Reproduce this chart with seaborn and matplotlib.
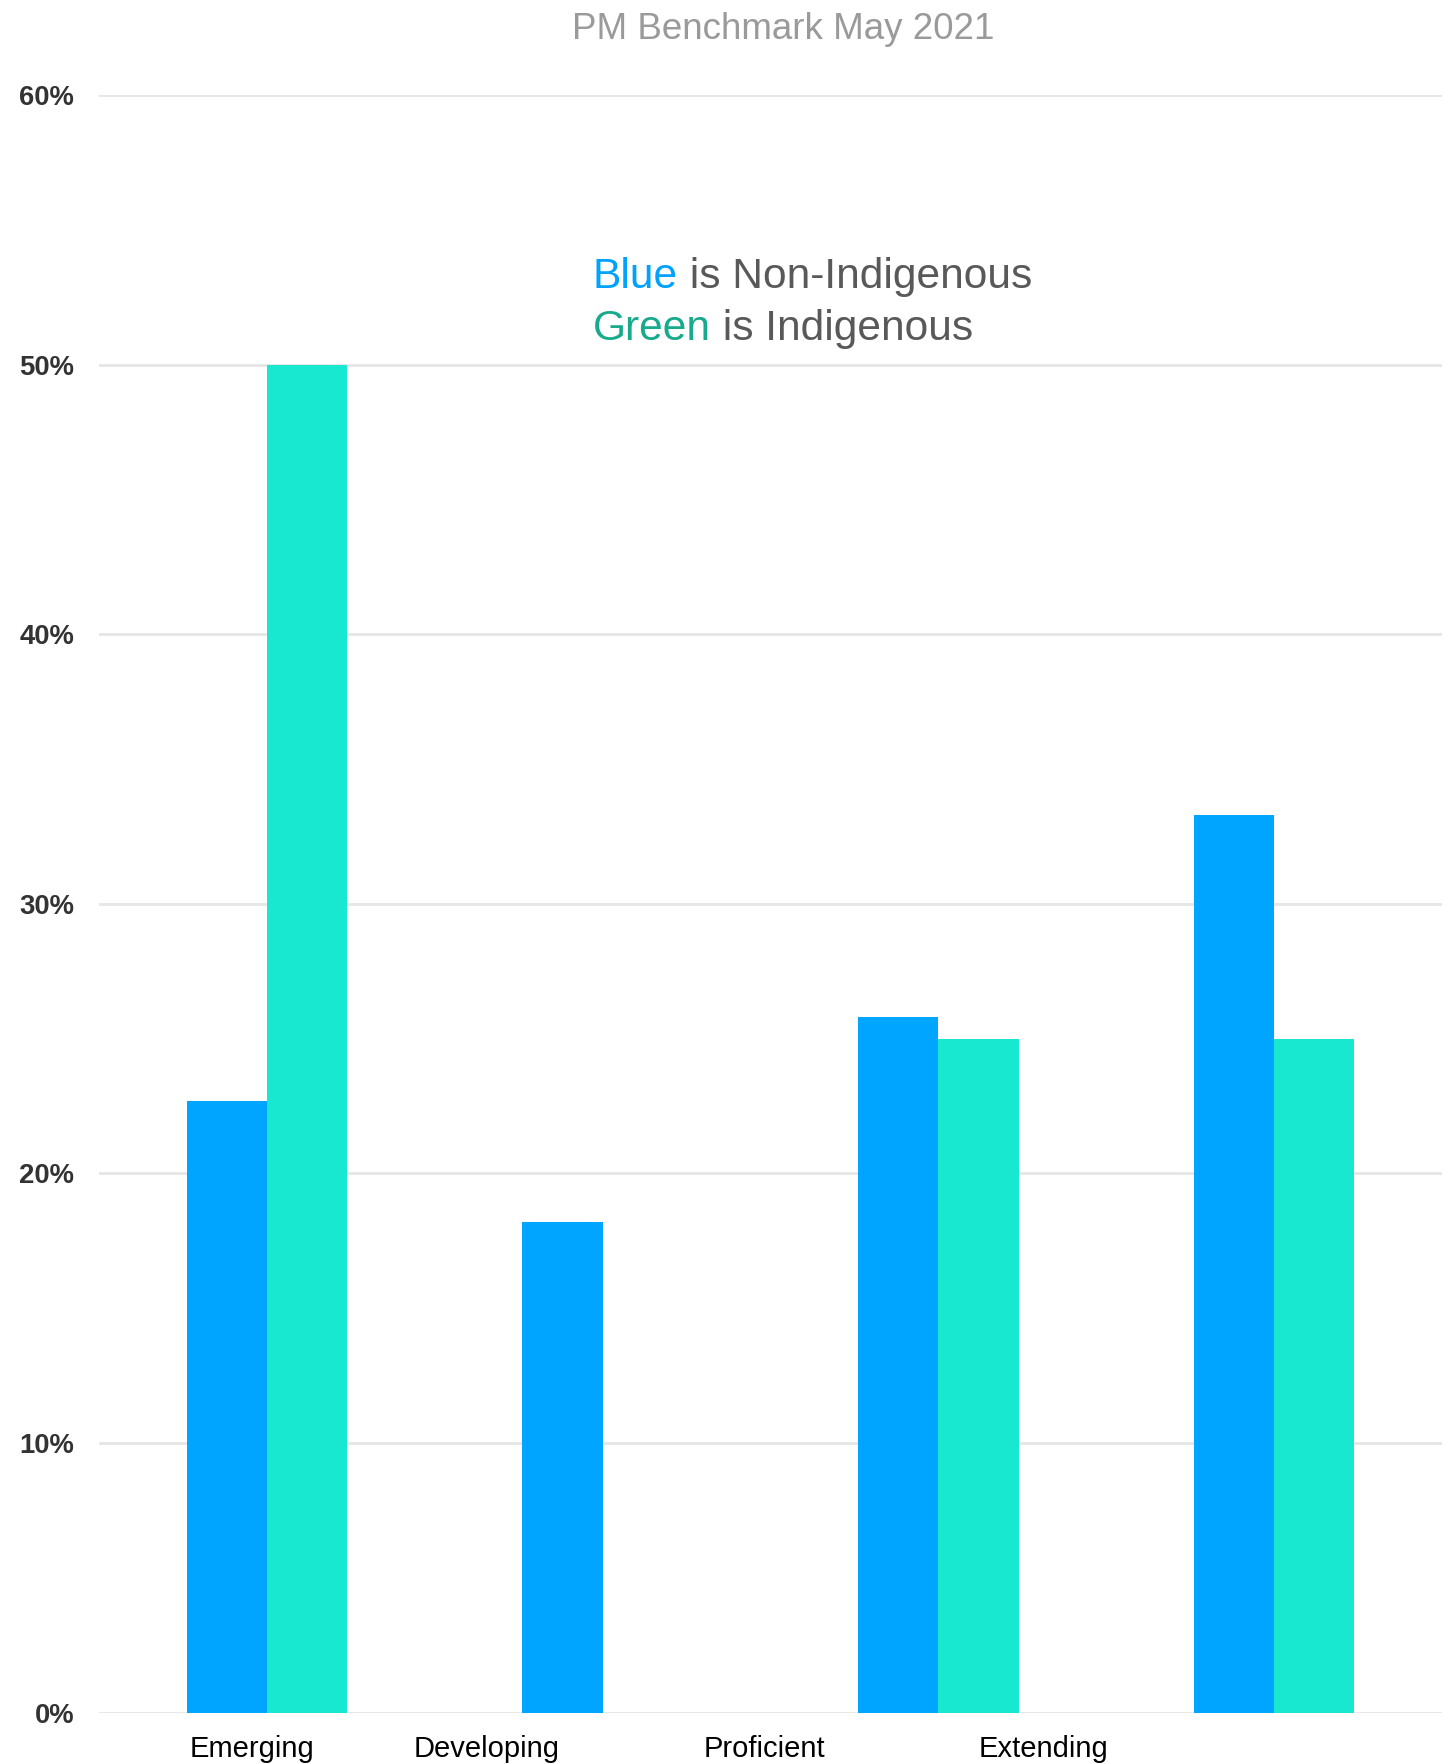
import pandas as pd
import matplotlib.pyplot as plt
import seaborn as sns

levels = ['Emerging', 'Developing', 'Proficient', 'Extending']
groups = ['Non-Indigenous', 'Indigenous']
non_indigenous = [22.7, 18.2, 25.8, 33.3]
indigenous = [50.0, 0.0, 25.0, 25.0]
y_ticks = [0, 10, 20, 30, 40, 50, 60]

df = pd.DataFrame({
    'Level': levels * 2,
    'Group': [groups[0]] * 4 + [groups[1]] * 4,
    'Pct': non_indigenous + indigenous,
})

sns.set_style('white')
plt.rcParams['font.family'] = ['Liberation Sans', 'DejaVu Sans']

fig = plt.figure(figsize=(14.48, 17.64), dpi=100)
ax = fig.add_axes([0.0684, 0.0291, 0.9275, 0.917])

sns.barplot(data=df, x='Level', y='Pct', hue='Group', order=levels,
            hue_order=groups, palette=['#00a5ff', '#18e8d0'],
            width=0.478, gap=0, saturation=1, legend=False, linewidth=0,
            ax=ax)

ax.set_xlim(-0.5, 3.5)
ax.set_ylim(0, 60)
ax.set_yticks(y_ticks)
ax.set_yticklabels([f'{t}%' for t in y_ticks], fontsize=19.8,
                   fontweight='bold', color='#333333')
ax.yaxis.grid(True, color='#e6e6e6', linewidth=2)
ax.set_axisbelow(True)
for s in ax.spines.values():
    s.set_visible(False)
ax.tick_params(axis='y', length=0, pad=18)

# category labels sit offset from the bar groups in the original
ax.set_xticks([-0.045, 0.655, 1.482, 2.312])
ax.set_xticklabels(levels, fontsize=21, color='black')
ax.tick_params(axis='x', length=0, pad=16)
ax.set_xlabel('')
ax.set_ylabel('')

fig.text(0.541, 0.983, 'PM Benchmark May 2021', ha='center', va='center',
         fontsize=26.5, color='#9a9a9a')

# colour-key text
x0 = 0.4095
y1, y2 = 0.8432, 0.8137
fs = 30.6
fig.text(x0, y1, 'Blue', ha='left', va='center', fontsize=fs, color='#00a2ff')
fig.text(x0, y2, 'Green', ha='left', va='center', fontsize=fs, color='#17aa8c')
t1 = fig.text(x0, y1, 'Blue', fontsize=fs, alpha=0)
t2 = fig.text(x0, y2, 'Green', fontsize=fs, alpha=0)
fig.canvas.draw()
r = fig.canvas.get_renderer()
w_blue = t1.get_window_extent(r).width / fig.bbox.width
w_green = t2.get_window_extent(r).width / fig.bbox.width
fig.text(x0 + w_blue, y1, ' is Non-Indigenous', ha='left', va='center',
         fontsize=fs, color='#595959')
fig.text(x0 + w_green, y2, ' is Indigenous', ha='left', va='center',
         fontsize=fs, color='#595959')

plt.savefig('out.png', dpi=100)
